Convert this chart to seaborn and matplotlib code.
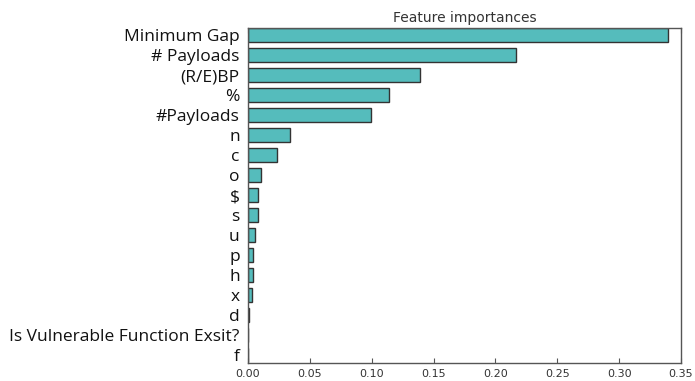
import matplotlib
matplotlib.use("Agg")
import matplotlib.pyplot as plt
import seaborn as sns
import pandas as pd

features = ["Minimum Gap", "# Payloads", "(R/E)BP", "%", "#Payloads", "n", "c", "o",
            "$", "s", "u", "p", "h", "x", "d", "Is Vulnerable Function Exsit?", "f"]
importances = [0.3395, 0.2167, 0.1393, 0.1142, 0.0997, 0.0340, 0.0232, 0.0105,
               0.0083, 0.0083, 0.0057, 0.0043, 0.0043, 0.0030, 0.0012, 0.0002, 0.0]
x_ticks = [0.00, 0.05, 0.10, 0.15, 0.20, 0.25, 0.30, 0.35]

sns.set_style("white")
plt.rcParams["font.family"] = ["DejaVu Sans"]

df = pd.DataFrame({"feature": features, "importance": importances})

fig = plt.figure(figsize=(6.95, 3.81), dpi=100)
ax = fig.add_axes([248 / 695, 18 / 381, 433 / 695, 335 / 381])

sns.barplot(data=df, x="importance", y="feature", orient="h", order=features,
            color="#55bcbc", saturation=1, edgecolor="#333333", linewidth=1.0,
            width=0.67, ax=ax)

ax.set_xlim(0, 0.35)
ax.set_ylim(16.4, -0.35)
ax.set_xticks(x_ticks)
ax.set_xticklabels([f"{t:.2f}" for t in x_ticks], fontsize=8, color="#333333")
ax.set_xlabel("")
ax.set_ylabel("")
ax.set_title("Feature importances", fontsize=10, color="#333333", pad=4)

ax.tick_params(axis="x", direction="in", length=3.5, width=0.8, color="#555555",
               top=True, bottom=True, pad=4)
ax.tick_params(axis="y", length=0, pad=6)
for lbl in ax.get_yticklabels():
    lbl.set_fontfamily(["Open Sans", "DejaVu Sans"])
    lbl.set_fontsize(12.5)
    lbl.set_color("#111111")

for sp in ax.spines.values():
    sp.set_visible(True)
    sp.set_color("#555555")
    sp.set_linewidth(1.0)

fig.savefig("out.png", dpi=100)
